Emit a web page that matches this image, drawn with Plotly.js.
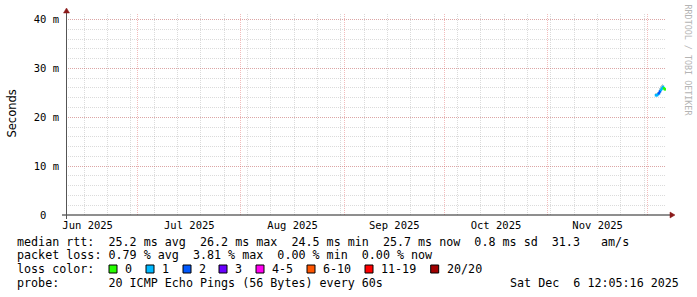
<!DOCTYPE html>
<html><head><meta charset="utf-8">
<script src="https://cdn.plot.ly/plotly-3.0.1.min.js"></script>
<style>html,body{margin:0;padding:0;background:#fff;}</style>
</head><body><div id="chart" style="width:697px;height:297px;"></div>
<script>
// ---- data ----
const rangeStart = '2025-06-09 12:05:16';
const rangeEnd = '2025-12-06 12:05:16';
const times = ['2025-12-03 12:00','2025-12-03 19:12','2025-12-04 02:24','2025-12-04 09:36','2025-12-04 16:48',
               '2025-12-05 00:00','2025-12-05 07:12','2025-12-05 14:24','2025-12-05 21:36','2025-12-06 04:48'];
const medianMs   = [24.5, 24.5, 24.7, 24.9, 25.3, 25.6, 25.9, 26.2, 25.9, 25.7];
const smokeMinMs = [24.3, 24.3, 24.5, 24.7, 25.0, 25.3, 25.6, 25.9, 25.7, 25.5];
const smokeMaxMs = [24.9, 24.9, 25.1, 25.4, 25.9, 26.3, 26.6, 26.9, 26.5, 26.2];
const lossPings  = [1, 1, 1, 2, 2, 1, 1, 1, 0, 0];
const lossLabels = ['0','1','2','3','4-5','6-10','11-19','20/20'];
const lossUpper  = [0, 1, 2, 3, 5, 10, 19, 20];
const lossColors = ['#26ff00','#00b8ff','#0059ff','#6a00ff','#ff00f0','#ff5500','#ff0000','#a10000'];
const yTickVals = [0, 0.01, 0.02, 0.03, 0.04];
const yTickText = ['0\u00a0\u00a0','10 m','20 m','30 m','40 m'];
const yMax = 0.04112;
const rttLine  = 'median rtt:  25.2 ms avg  26.2 ms max  24.5 ms min  25.7 ms now  0.8 ms sd  31.3   am/s';
const lossLine = 'packet loss: 0.79 % avg  3.81 % max  0.00 % min  0.00 % now';
const lossColorLabel = 'loss color:';
const probeLine = 'probe:       20 ICMP Echo Pings (56 Bytes) every 60s';
const dateLine = 'Sat Dec  6 12:05:16 2025';
const yTitle = 'Seconds';
const watermark = 'RRDTOOL / TOBI OETIKER';

// ---- helpers ----
const L = 66, T = 14, PW = 600, PH = 201;
const px = x => (x - L) / PW;
const py = y => (T + PH - y) / PH;
const nb = s => s.replace(/ /g, '\u00a0');
const classOf = p => lossUpper.findIndex(u => p <= u);
const mono = 'DejaVu Sans Mono, monospace';

const smokeTrace = {
  type: 'bar', x: times,
  base: smokeMinMs.map(v => v / 1000),
  y: smokeMaxMs.map((v, i) => (v - smokeMinMs[i]) / 1000),
  width: 7.2 * 3600 * 1000,
  marker: {color: '#cfcfcf', line: {width: 0}},
  hoverinfo: 'skip', showlegend: false
};
const medianTrace = {
  type: 'scatter', mode: 'lines+markers', x: times,
  y: medianMs.map(v => v / 1000),
  line: {color: lossColors[1], width: 1, shape: 'hv'},
  marker: {symbol: 'square', size: 2.5, color: lossPings.map(p => lossColors[classOf(p)]), line: {width: 0}},
  showlegend: false
};

const gridMajor = 'rgba(222,79,79,0.38)';
const gridMinor = 'rgba(143,143,143,0.32)';

const annotations = [];
const shapes = [];
function txt(text, x, y, opts) {
  annotations.push(Object.assign({
    text: nb(text), xref: 'paper', yref: 'paper', x: px(x), y: py(y),
    xanchor: 'left', yanchor: 'middle', showarrow: false,
    font: {family: mono, size: 11.7, color: '#000'}
  }, opts || {}));
}
txt(rttLine, 15, 241.5);
txt(lossLine, 15, 255);
txt(lossColorLabel, 15, 268.8);
txt(probeLine, 15, 282.5);
txt(dateLine, 681, 282.5, {xanchor: 'right'});
const boxX = [109, 146, 183, 219, 256, 307, 365, 430.7];
lossLabels.forEach((lab, i) => {
  shapes.push({type: 'rect', xref: 'paper', yref: 'paper',
    x0: px(boxX[i]), x1: px(boxX[i] + 8), y0: py(273), y1: py(265),
    fillcolor: lossColors[i], line: {color: '#000', width: 1}});
  txt(lab, boxX[i] + 14, 268.8);
});
annotations.push({text: yTitle, xref: 'paper', yref: 'paper', x: px(11), y: py(113.5),
  xanchor: 'center', yanchor: 'middle', textangle: -90, showarrow: false,
  font: {family: 'DejaVu Sans, sans-serif', size: 11.5, color: '#000'}});
annotations.push({text: nb(watermark), xref: 'paper', yref: 'paper', x: px(687.5), y: py(60),
  xanchor: 'center', yanchor: 'middle', textangle: 90, showarrow: false,
  font: {family: mono, size: 8.4, color: '#b4b4b4'}});

// axes lines + arrows
shapes.push({type: 'line', xref: 'paper', yref: 'paper', x0: px(62), x1: px(671), y0: py(215), y1: py(215), line: {color: '#1f1f1f', width: 1}});
shapes.push({type: 'line', xref: 'paper', yref: 'paper', x0: px(66.5), x1: px(66.5), y0: py(219), y1: py(12), line: {color: '#555', width: 1}});
shapes.push({type: 'path', xref: 'paper', yref: 'paper',
  path: `M ${px(670)} ${py(212)} L ${px(675)} ${py(215)} L ${px(670)} ${py(218)} Z`,
  fillcolor: '#8b1a1a', line: {color: '#8b1a1a', width: 0.5}});
shapes.push({type: 'path', xref: 'paper', yref: 'paper',
  path: `M ${px(63.5)} ${py(13)} L ${px(66.5)} ${py(8)} L ${px(69.5)} ${py(13)} Z`,
  fillcolor: '#8b1a1a', line: {color: '#8b1a1a', width: 0.5}});

const layout = {
  width: 697, height: 297,
  margin: {l: L, r: 697 - L - PW, t: T, b: 297 - T - PH, pad: 0},
  paper_bgcolor: '#fff', plot_bgcolor: '#fff',
  showlegend: false, bargap: 0,
  font: {family: mono, color: '#000'},
  xaxis: {
    type: 'date', range: [rangeStart, rangeEnd],
    tickmode: 'linear', tick0: '2025-06-01', dtick: 'M1',
    ticklabelmode: 'period', tickformat: '%b %Y',
    showgrid: true, gridcolor: gridMajor, gridwidth: 1, griddash: '1px,1px',
    minor: {tickmode: 'linear', tick0: '2025-06-01', dtick: 7 * 86400000, showgrid: true,
            gridcolor: gridMinor, gridwidth: 1, griddash: '1px,1px', ticks: ''},
    zeroline: false, showline: false, ticks: '',
    tickfont: {family: mono, size: 10.5, color: '#000'},
    ticklabelstandoff: 2, fixedrange: true
  },
  yaxis: {
    range: [0, yMax], tickmode: 'array', tickvals: yTickVals, ticktext: yTickText,
    showgrid: true, gridcolor: gridMajor, gridwidth: 1, griddash: '1px,1px',
    minor: {tickmode: 'linear', tick0: 0, dtick: 0.002, showgrid: true,
            gridcolor: gridMinor, gridwidth: 1, griddash: '1px,1px', ticks: ''},
    zeroline: false, showline: false, ticks: '',
    tickfont: {family: mono, size: 10.5, color: '#000'},
    ticklabelstandoff: 6, fixedrange: true
  },
  annotations: annotations,
  shapes: shapes
};

Plotly.newPlot('chart', [smokeTrace, medianTrace], layout, {staticPlot: true, displayModeBar: false});
</script>
</body></html>
